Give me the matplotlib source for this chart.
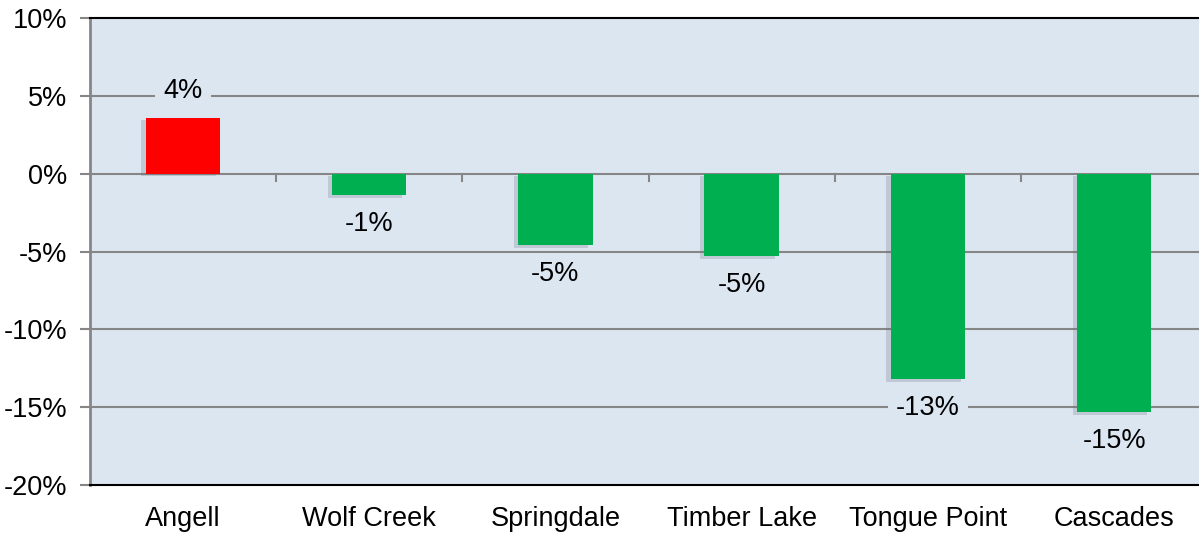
import numpy as np
import matplotlib
matplotlib.use('Agg')
import matplotlib.pyplot as plt
from matplotlib import patheffects

categories = ["Angell", "Wolf Creek", "Springdale", "Timber Lake", "Tongue Point", "Cascades"]
values = [3.6, -1.4, -4.6, -5.3, -13.2, -15.3]
bar_colors = ["#FF0000", "#00B050", "#00B050", "#00B050", "#00B050", "#00B050"]
y_ticks = [-20, -15, -10, -5, 0, 5, 10]

bg = "#DCE6F1"
grid_color = "#868686"

plt.rcParams['font.family'] = ['Liberation Sans', 'DejaVu Sans']

fig = plt.figure(figsize=(11.99, 5.33), dpi=100)
# plot area runs slightly past the right edge of the picture
ax = fig.add_axes([89.75 / 1199, 48 / 533, 1117.5 / 1199, (485 - 18) / 533])
ax.set_facecolor(bg)

x = np.arange(len(categories))
ax.set_xlim(-0.5, len(categories) - 0.5)
ax.set_ylim(-20, 10)

# gridlines
for yv in y_ticks:
    if yv not in (-20, 10):
        ax.axhline(yv, color=grid_color, lw=1.5, zorder=1)

# category separator ticks on the zero line
for b in np.arange(0.5, len(categories) - 0.5, 1):
    ax.plot([b, b], [0, -0.5], color=grid_color, lw=1.5, zorder=1)

shadow = [patheffects.SimplePatchShadow(offset=(-3, -2), shadow_rgbFace='#6a7080', alpha=0.25),
          patheffects.Normal()]
bars = ax.bar(x, values, width=0.4, color=bar_colors, zorder=3)
for b in bars:
    b.set_path_effects(shadow)

for xi, v in zip(x, values):
    off = 27 if v > 0 else -29
    ax.annotate(f"{round(v):.0f}%", (xi, v), xytext=(0, off), textcoords='offset pixels',
                ha='center', va='center', fontsize=19.5, color='#000000', zorder=4,
                bbox=dict(boxstyle='square,pad=0.3', fc=bg, ec='none'))

ax.set_yticks(y_ticks)
ax.set_yticklabels([f"{t}%" for t in y_ticks], fontsize=19.5)
ax.set_xticks(x)
ax.set_xticklabels(categories, fontsize=19.5)
ax.tick_params(axis='x', length=0, pad=15)
ax.tick_params(axis='y', length=7, width=1.5, color=grid_color, pad=9)

ax.spines['left'].set_color(grid_color)
ax.spines['left'].set_linewidth(2)
ax.spines['top'].set_color('black')
ax.spines['top'].set_linewidth(1.5)
ax.spines['bottom'].set_color('black')
ax.spines['bottom'].set_linewidth(1.5)
ax.spines['right'].set_visible(False)

fig.savefig("out.png", dpi=100)
plt.close()
